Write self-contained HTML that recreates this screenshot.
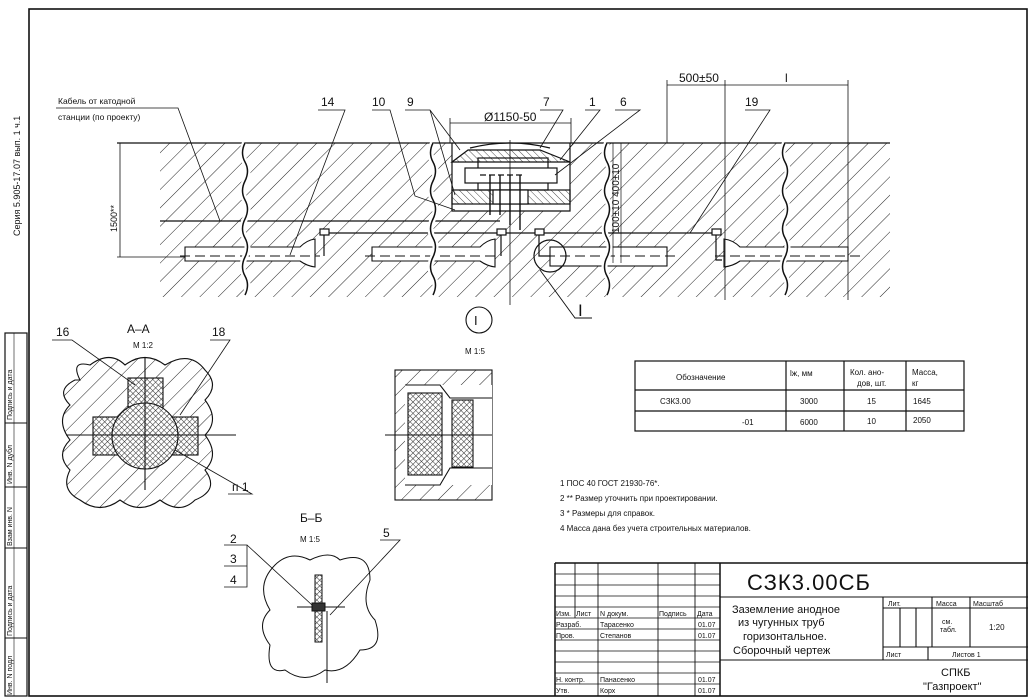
<!DOCTYPE html>
<html><head><meta charset="utf-8"><style>
html,body{margin:0;padding:0;background:#fff}
svg{display:block}
text{font-family:"Liberation Sans","DejaVu Sans",sans-serif;fill:#111}
</style></head><body>
<svg width="1035" height="700" viewBox="0 0 1035 700" xmlns="http://www.w3.org/2000/svg">
<defs>
<pattern id="h" width="13" height="13" patternUnits="userSpaceOnUse" patternTransform="rotate(45)">
<line x1="0" y1="0" x2="0" y2="13" stroke="#222" stroke-width="1"/></pattern>
<pattern id="hd" width="5" height="5" patternUnits="userSpaceOnUse" patternTransform="rotate(-45)">
<line x1="0" y1="0" x2="0" y2="5" stroke="#222" stroke-width="0.8"/></pattern>
<pattern id="x" width="4" height="4" patternUnits="userSpaceOnUse" patternTransform="rotate(45)">
<rect width="4" height="4" fill="#fff"/><path d="M0 0H4M0 0V4" stroke="#333" stroke-width="1.1"/></pattern>
</defs>
<rect width="1035" height="700" fill="#fff"/>
<g fill="none" stroke="#111">
<rect x="29" y="9" width="998" height="687" stroke-width="1.6"/>
<rect x="5" y="333" width="22" height="363" stroke-width="1.2"/>
<line x1="5" y1="423" x2="27" y2="423"/><line x1="5" y1="487" x2="27" y2="487"/>
<line x1="5" y1="548" x2="27" y2="548"/><line x1="5" y1="638" x2="27" y2="638"/>
<line x1="14" y1="333" x2="14" y2="696" stroke-width="0.6"/>
</g>
<g font-size="7" fill="#222">
<text transform="translate(20,236) rotate(-90)" font-size="9">Серия 5.905-17.07 вып. 1 ч.1</text>
<text transform="translate(12,420) rotate(-90)">Подпись и дата</text>
<text transform="translate(12,484) rotate(-90)">Инв. N дубл</text>
<text transform="translate(12,546) rotate(-90)">Взам инв. N</text>
<text transform="translate(12,636) rotate(-90)">Подпись и дата</text>
<text transform="translate(12,695) rotate(-90)">Инв. N подл</text>
</g>

<rect x="160" y="143" width="730" height="154" fill="url(#h)"/>
<rect x="452" y="143" width="118" height="68" fill="#fff"/>
<g fill="#fff" stroke="#111" stroke-width="1.1">
<path d="M185 247H300Q307 240 315 239V267Q307 266 300 261H185Z"/>
<path d="M372 247H480Q487 240 495 239V267Q487 266 480 261H372Z"/>
<rect x="550" y="247" width="117" height="19"/>
<path d="M848 247H740Q733 240 724 239V267Q733 266 740 261H848Z"/>
</g>
<g stroke="#111" fill="none" stroke-width="0.9" stroke-dasharray="10,5">
<line x1="180" y1="256" x2="320" y2="256"/><line x1="365" y1="256" x2="500" y2="256"/>
<line x1="545" y1="256" x2="680" y2="256"/><line x1="715" y1="256" x2="865" y2="256"/>
</g>
<g stroke="#111" fill="none" stroke-width="1.2">
<line x1="117" y1="143" x2="890" y2="143"/>
<line x1="160" y1="221" x2="500" y2="221"/>
<line x1="320" y1="233" x2="720" y2="233"/>
<g stroke-width="1.5" fill="none">
<path d="M245 143q-5 10 0 19t0 19t0 19t0 19t0 19t0 19t0 19t0 19" stroke="#fff" stroke-width="6"/>
<path d="M245 143q-5 10 0 19t0 19t0 19t0 19t0 19t0 19t0 19t0 19"/>
<path d="M433 143q-5 10 0 19t0 19t0 19t0 19t0 19t0 19t0 19t0 19" stroke="#fff" stroke-width="6"/>
<path d="M433 143q-5 10 0 19t0 19t0 19t0 19t0 19t0 19t0 19t0 19"/>
<path d="M607 143q-5 10 0 19t0 19t0 19t0 19t0 19t0 19t0 19t0 19" stroke="#fff" stroke-width="6"/>
<path d="M607 143q-5 10 0 19t0 19t0 19t0 19t0 19t0 19t0 19t0 19"/>
<path d="M785 143q-5 10 0 19t0 19t0 19t0 19t0 19t0 19t0 19t0 19" stroke="#fff" stroke-width="6"/>
<path d="M785 143q-5 10 0 19t0 19t0 19t0 19t0 19t0 19t0 19t0 19"/>
</g>
<rect x="320" y="229" width="9" height="6" fill="#fff"/><path d="M324 235V256"/>
<rect x="497" y="229" width="9" height="6" fill="#fff"/><path d="M501 235V256"/>
<rect x="535" y="229" width="9" height="6" fill="#fff"/><path d="M539 235V256H550"/>
<rect x="712" y="229" width="9" height="6" fill="#fff"/><path d="M716 235V260H722"/>
<path d="M452 143V211H570V143"/>
<path d="M452 162L468 150H540L570 162Z" fill="url(#hd)"/>
<path d="M470 148Q510 138 550 148" />
<rect x="478" y="158" width="70" height="32"/>
<rect x="465" y="168" width="92" height="15" fill="#fff"/>
<line x1="480" y1="175" x2="525" y2="175" stroke-dasharray="6,3"/>
<rect x="452" y="190" width="118" height="14" fill="url(#hd)"/>
<rect x="493" y="190" width="35" height="14" fill="#fff"/>
<path d="M500 175V215M510 175V225M520 175V230M490 175V215" stroke-width="1.4"/>
<line x1="510" y1="140" x2="510" y2="305" stroke-width="0.8"/>
<circle cx="550" cy="256" r="16"/>
<path d="M540 270L575 318H592" stroke-width="0.9"/>
<path d="M450 143V118M571 143V118M450 123H571" stroke-width="0.8"/>
<path d="M667 143V80M725 300V80M848 300V80M667 85H848" stroke-width="0.8"/>
<path d="M120 143V257M117 257H185" stroke-width="0.8"/>
<path d="M613 143V263M621 143V263" stroke-width="0.7"/>
<path d="M56 108H178L220 221M318 110H345L290 255M372 110H390L415 196L455 210M405 110H430L460 150M430 110L455 195M540 110H563L540 148M585 110H600L560 160M615 110H640L555 175M745 110H770L690 233" stroke-width="0.8"/>
</g>
<g font-size="8.5">
<text x="58" y="104">Кабель от катодной</text>
<text x="58" y="120">станции (по проекту)</text>
<text transform="translate(117,232) rotate(-90)" font-size="9">1500**</text>
<text transform="translate(619,233) rotate(-90)" font-size="10">100±10 400±10</text>
</g>
<g font-size="12">
<text x="321" y="106">14</text><text x="372" y="106">10</text><text x="407" y="106">9</text>
<text x="543" y="106">7</text><text x="589" y="106">1</text><text x="620" y="106">6</text>
<text x="745" y="106">19</text>
<text x="484" y="121">Ø1150-50</text><text x="679" y="82">500±50</text><text x="785" y="82">l</text>
<text x="578" y="316" font-family="Liberation Serif" font-size="17">I</text>
</g>

<g stroke="#111" stroke-width="1.1">
<path d="M80 380q-10 -20 10 -15q20 -15 35 0q20 -15 40 0q25 -15 40 5q15 15 0 30q15 20 0 35q15 20 0 35q15 20 -10 30q-15 15 -35 0q-20 15 -40 0q-20 15 -40 0q-20 -10 -10 -30q-15 -15 0 -30q-15 -20 0 -35q-15 -15 5 -25z" fill="url(#h)"/>
<rect x="93" y="417" width="105" height="38" fill="url(#x)"/>
<rect x="128" y="378" width="35" height="40" fill="url(#x)"/>
<circle cx="145" cy="436" r="33" fill="url(#x)"/>
<line x1="66" y1="435" x2="236" y2="435"/>
<line x1="145" y1="358" x2="145" y2="490"/>
<path d="M52 340H72L135 385M210 340H230L180 415M228 494H252L175 450" fill="none" stroke-width="0.8"/>
</g>
<g font-size="12"><text x="56" y="336">16</text><text x="212" y="336">18</text><text x="232" y="491">п 1</text>
<text x="127" y="333">А–А</text></g>
<text x="133" y="348" font-size="8">М 1:2</text>

<circle cx="479" cy="320" r="13" fill="none" stroke="#111" stroke-width="1.1"/>
<text x="474" y="325" font-size="13" font-family="Liberation Serif">I</text>
<text x="465" y="354" font-size="8">М 1:5</text>
<g stroke="#111" stroke-width="1.1">
<rect x="395" y="370" width="97" height="130" fill="url(#h)"/>
<rect x="405" y="385" width="87" height="100" fill="#fff" stroke="none"/>
<path d="M405 385H440L450 398H492M405 485H440L450 468H492" fill="none"/>
<rect x="408" y="393" width="34" height="82" fill="url(#x)"/>
<rect x="452" y="400" width="21" height="67" fill="url(#x)"/>
<line x1="385" y1="435" x2="492" y2="435"/>
</g>

<g stroke="#111" stroke-width="1">
<path d="M275 565q15 -15 35 -5q20 -10 30 0q30 -10 30 20q-10 25 5 40q10 30 -15 30q-15 25 -35 20q-20 15 -40 0q-20 5 -15 -25q-15 -20 0 -35q-15 -25 5 -45z" fill="#fff"/>
<rect x="315" y="575" width="7" height="67" fill="url(#x)"/>
<line x1="297" y1="607" x2="345" y2="607"/>
<rect x="312" y="603" width="13" height="8" fill="#333"/>
<line x1="327" y1="611" x2="327" y2="683"/>
<path d="M224 545H247V587H224M224 566H247M247 545L312 605M380 540H400L330 615" fill="none" stroke-width="0.8"/>
</g>
<g font-size="12"><text x="230" y="543">2</text><text x="230" y="563">3</text><text x="230" y="584">4</text>
<text x="383" y="537">5</text><text x="300" y="522">Б–Б</text></g>
<text x="300" y="542" font-size="8">М 1:5</text>

<g stroke="#111" stroke-width="1.2" fill="none">
<rect x="635" y="361" width="329" height="70"/>
<line x1="635" y1="390" x2="964" y2="390"/><line x1="635" y1="411" x2="964" y2="411"/>
<line x1="786" y1="361" x2="786" y2="431"/><line x1="844" y1="361" x2="844" y2="431"/><line x1="906" y1="361" x2="906" y2="431"/>
</g>
<g font-size="8">
<text x="676" y="380">Обозначение</text><text x="790" y="376">lж, мм</text>
<text x="850" y="375">Кол. ано-</text><text x="857" y="386">дов, шт.</text>
<text x="912" y="375">Масса,</text><text x="912" y="386">кг</text>
<text x="660" y="404">СЗК3.00</text><text x="800" y="404">3000</text><text x="867" y="404">15</text><text x="913" y="404">1645</text>
<text x="742" y="425">-01</text><text x="800" y="425">6000</text><text x="867" y="424">10</text><text x="913" y="423">2050</text>
</g>
<g font-size="8">
<text x="560" y="486">1 ПОС 40 ГОСТ 21930-76*.</text>
<text x="560" y="501">2 ** Размер уточнить при проектировании.</text>
<text x="560" y="516">3 * Размеры для справок.</text>
<text x="560" y="531">4 Масса дана без учета строительных материалов.</text>
</g>

<g stroke="#111" stroke-width="1" fill="none">
<path d="M555 563H1028M555 563V696M720 563V696" stroke-width="1.5"/>
<path d="M555 574H720M555 585H720M555 596H720M555 607H720M555 618H720M555 629H720M555 640H720M555 651H720M555 662H720M555 673H720M555 684H720" stroke-width="0.7"/>
<path d="M575 563V618M598 563V696M658 563V696M695 563V696" stroke-width="0.9"/>
<path d="M720 597H1028M720 660H1028M883 597V660M932 597V647M970 597V647M883 608H1028M883 647H1028M900 608V647M916 608V647M928 647V660" stroke-width="1.1"/>
</g>
<g font-size="7">
<text x="556" y="616">Изм.</text><text x="576" y="616">Лист</text><text x="600" y="616">N докум.</text><text x="659" y="616">Подпись</text><text x="697" y="616">Дата</text>
<text x="556" y="627">Разраб.</text><text x="600" y="627">Тарасенко</text><text x="698" y="627">01.07</text>
<text x="556" y="638">Пров.</text><text x="600" y="638">Степанов</text><text x="698" y="638">01.07</text>
<text x="556" y="682">Н. контр.</text><text x="600" y="682">Панасенко</text><text x="698" y="682">01.07</text>
<text x="556" y="693">Утв.</text><text x="600" y="693">Корх</text><text x="698" y="693">01.07</text>
<text x="888" y="606">Лит.</text><text x="936" y="606">Масса</text><text x="973" y="606">Масштаб</text>
<text x="942" y="624">см.</text><text x="940" y="632">табл.</text><text x="989" y="630" font-size="8">1:20</text>
<text x="886" y="657">Лист</text><text x="952" y="657">Листов 1</text>
</g>
<text x="747" y="590" font-size="22" fill="#222" letter-spacing="1">СЗК3.00СБ</text>
<g font-size="11">
<text x="732" y="613">Заземление анодное</text>
<text x="738" y="626">из чугунных труб</text>
<text x="743" y="640">горизонтальное.</text>
<text x="733" y="654">Сборочный чертеж</text>
<text x="941" y="676">СПКБ</text>
<text x="923" y="690">"Газпроект"</text>
</g>
</svg>
</body></html>
